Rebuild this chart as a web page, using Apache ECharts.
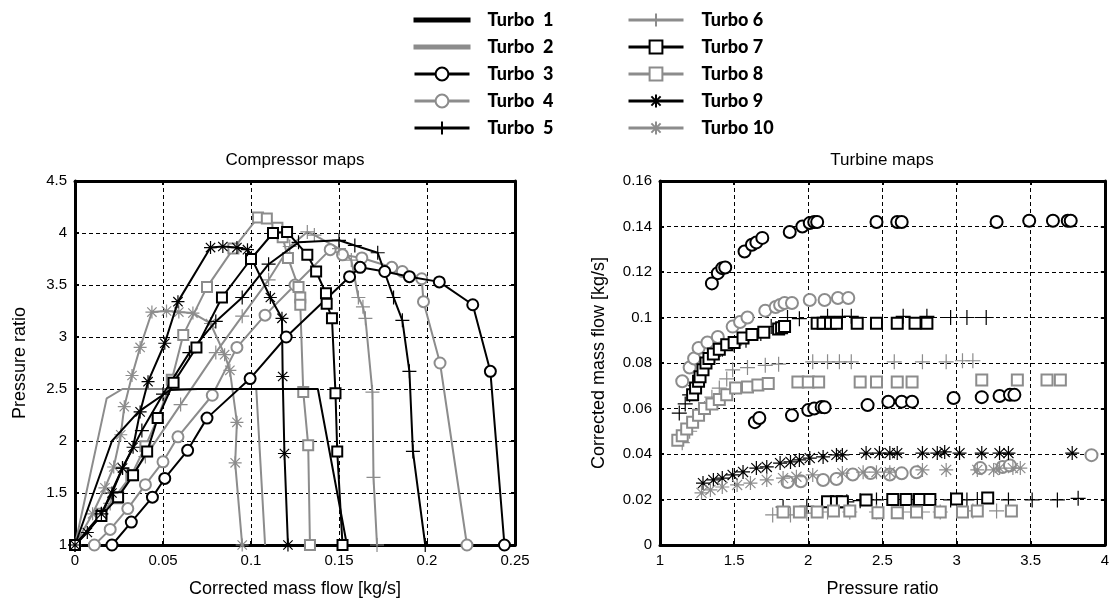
<!DOCTYPE html>
<html><head><meta charset="utf-8">
<script src="https://cdn.jsdelivr.net/npm/echarts@6/dist/echarts.min.js"></script>
<style>html,body{margin:0;padding:0;background:#fff}#c{width:1112px;height:604px}</style>
</head><body><div id="c"></div>
<script>
// ---------- names / styles ----------
const names = ['Turbo  1','Turbo  2','Turbo  3','Turbo  4','Turbo  5','Turbo 6','Turbo 7','Turbo 8','Turbo 9','Turbo 10'];
const xTicksLeft = [0, 0.05, 0.1, 0.15, 0.2, 0.25];
const yTicksLeft = [1, 1.5, 2, 2.5, 3, 3.5, 4, 4.5];
const xTicksRight = [1, 1.5, 2, 2.5, 3, 3.5, 4];
const yTicksRight = [0, 0.02, 0.04, 0.06, 0.08, 0.1, 0.12, 0.14, 0.16];

// ---------- compressor maps (mass flow, pressure ratio) ----------
const comp1 = [[0,1],[0.021,2.0],[0.036,2.28],[0.054,2.49],[0.07,2.5],[0.103,2.5],[0.138,2.5],[0.1545,1]];
const comp2 = [[0,1],[0.018,2.41],[0.027,2.5],[0.103,2.5],[0.108,1]];
const comp3 = [[0.021,1.0],[0.032,1.22],[0.044,1.46],[0.051,1.64],[0.064,1.91],[0.075,2.22],[0.0995,2.6],[0.12,3.0],[0.156,3.58],[0.162,3.67],[0.176,3.63],[0.19,3.58],[0.207,3.53],[0.226,3.31],[0.236,2.67],[0.244,1.0]];
const comp4 = [[0.011,1.0],[0.02,1.15],[0.03,1.35],[0.04,1.58],[0.05,1.8],[0.0585,2.04],[0.078,2.44],[0.092,2.9],[0.108,3.21],[0.125,3.5],[0.145,3.84],[0.152,3.79],[0.163,3.76],[0.18,3.67],[0.186,3.63],[0.197,3.56],[0.198,3.34],[0.2074,2.75],[0.2227,1.0]];
const comp5 = [[0,1],[0.015,1.3],[0.027,1.74],[0.038,2.1],[0.05,2.45],[0.065,2.85],[0.08,3.15],[0.095,3.38],[0.11,3.7],[0.127,3.91],[0.15,3.93],[0.159,3.88],[0.172,3.81],[0.181,3.38],[0.186,3.16],[0.19,2.67],[0.192,1.9],[0.199,1.0]];
const comp6 = [[0,1],[0.02,1.4],[0.04,1.85],[0.06,2.35],[0.08,2.85],[0.095,3.2],[0.11,3.55],[0.122,3.87],[0.132,4.01],[0.136,3.98],[0.15,3.85],[0.157,3.74],[0.161,3.38],[0.1636,3.29],[0.165,3.18],[0.169,2.47],[0.1696,1.65],[0.1716,1.0]];
const comp7 = [[0,1],[0.015,1.28],[0.0245,1.46],[0.033,1.67],[0.041,1.9],[0.047,2.22],[0.056,2.56],[0.069,2.9],[0.0835,3.38],[0.1,3.75],[0.1125,4.0],[0.1205,4.01],[0.132,3.79],[0.137,3.63],[0.1426,3.42],[0.143,3.32],[0.146,3.18],[0.148,2.46],[0.149,1.9],[0.152,1.0]];
const comp8 = [[0,1],[0.015,1.3],[0.024,1.45],[0.032,1.67],[0.04,1.95],[0.047,2.22],[0.055,2.59],[0.0615,3.02],[0.075,3.48],[0.09,3.85],[0.104,4.15],[0.109,4.14],[0.115,4.05],[0.118,3.96],[0.121,3.76],[0.127,3.48],[0.128,3.38],[0.128,3.31],[0.1297,2.47],[0.1325,1.96],[0.1335,1.0]];
const comp9 = [[0,1],[0.007,1.12],[0.015,1.3],[0.021,1.5],[0.027,1.74],[0.033,1.94],[0.037,2.28],[0.0415,2.57],[0.051,2.94],[0.0585,3.34],[0.077,3.86],[0.084,3.87],[0.092,3.86],[0.098,3.84],[0.111,3.38],[0.1176,3.18],[0.118,2.62],[0.119,1.88],[0.121,1.0]];
const comp10 = [[0,1],[0.01,1.3],[0.017,1.55],[0.022,1.75],[0.026,2.06],[0.028,2.33],[0.0324,2.63],[0.037,2.9],[0.0437,3.24],[0.052,3.25],[0.059,3.24],[0.067,3.23],[0.077,3.13],[0.085,2.83],[0.088,2.68],[0.092,2.18],[0.091,1.79],[0.095,1.0]];

// ---------- turbine maps (pressure ratio, mass flow) ----------
const turb3a = [[1.35,0.115],[1.39,0.1195],[1.42,0.1217],[1.44,0.122],[1.57,0.129],[1.62,0.132],[1.65,0.133],[1.69,0.135],[1.875,0.1376],[1.96,0.14],[2.01,0.1415],[2.04,0.142],[2.06,0.142],[2.46,0.142],[2.6,0.142],[2.63,0.142],[3.27,0.142],[3.49,0.1425],[3.65,0.1425],[3.75,0.1425],[3.77,0.1425]];
const turb3b = [[1.64,0.054],[1.67,0.0558],[1.89,0.057],[2.0,0.0593],[2.04,0.06],[2.09,0.0607],[2.11,0.0605],[2.4,0.0615],[2.54,0.063],[2.63,0.063],[2.7,0.063],[2.98,0.0646],[3.17,0.065],[3.29,0.0655],[3.36,0.066],[3.39,0.066]];
const turb4a = [[1.15,0.072],[1.2,0.078],[1.23,0.082],[1.26,0.0866],[1.32,0.089],[1.39,0.0914],[1.49,0.096],[1.54,0.098],[1.59,0.1],[1.71,0.103],[1.78,0.1046],[1.81,0.1055],[1.84,0.1064],[1.89,0.1064],[2.01,0.1077],[2.11,0.1077],[2.2,0.1086],[2.27,0.1086]];
const turb4b = [[1.86,0.0277],[1.95,0.028],[2.1,0.0286],[2.19,0.029],[2.3,0.031],[2.42,0.0316],[2.55,0.031],[2.63,0.0315],[2.73,0.032],[3.16,0.0338],[3.31,0.0343],[3.36,0.035],[3.91,0.0395]];
const turb5a = [[1.13,0.058],[1.17,0.062],[1.2,0.066],[1.24,0.07],[1.28,0.075],[1.32,0.08],[1.36,0.083],[1.42,0.086],[1.5,0.088],[1.58,0.09],[1.68,0.093],[1.75,0.096],[1.86,0.1],[1.94,0.0995],[2.13,0.1005],[2.23,0.1005],[2.29,0.1005],[2.64,0.1005],[2.8,0.1005],[2.96,0.1],[3.07,0.1],[3.2,0.1]];
const turb5b = [[1.83,0.0167],[1.99,0.017],[2.26,0.019],[2.35,0.0195],[2.46,0.0198],[2.96,0.0198],[3.07,0.0198],[3.14,0.02],[3.35,0.0198],[3.51,0.0198],[3.68,0.0198],[3.82,0.0205]];
const turb6a = [[1.15,0.045],[1.2,0.05],[1.25,0.055],[1.3,0.06],[1.35,0.065],[1.4,0.069],[1.45,0.073],[1.49,0.077],[1.59,0.078],[1.71,0.079],[1.8,0.0795],[2.03,0.0805],[2.13,0.0805],[2.21,0.0805],[2.29,0.0805],[2.58,0.0805],[2.77,0.0805],[2.93,0.0805],[3.04,0.081],[3.11,0.081]];
const turb6b = [[1.76,0.0132],[1.88,0.0132],[1.99,0.014],[2.13,0.0145],[2.28,0.0145],[2.46,0.0145],[2.64,0.0145],[2.77,0.0145],[2.89,0.0145],[3.11,0.015],[3.27,0.015]];
const turb7a = [[1.22,0.066],[1.24,0.069],[1.26,0.072],[1.27,0.074],[1.29,0.077],[1.31,0.08],[1.33,0.082],[1.36,0.084],[1.4,0.086],[1.45,0.088],[1.5,0.089],[1.56,0.091],[1.62,0.0925],[1.7,0.0935],[1.8,0.095],[1.82,0.0955],[1.84,0.096],[2.06,0.0975],[2.1,0.0975],[2.15,0.0975],[2.19,0.0975],[2.33,0.0975],[2.46,0.0975],[2.6,0.0975],[2.72,0.0975],[2.8,0.0975]];
const turb7b = [[2.13,0.019],[2.19,0.019],[2.23,0.019],[2.39,0.0198],[2.57,0.02],[2.66,0.02],[2.75,0.02],[2.82,0.02],[3.0,0.0202],[3.21,0.0207]];
const turb8a = [[1.12,0.046],[1.15,0.048],[1.18,0.051],[1.22,0.054],[1.26,0.057],[1.3,0.06],[1.35,0.062],[1.4,0.064],[1.45,0.066],[1.51,0.069],[1.59,0.0695],[1.66,0.0703],[1.73,0.071],[1.93,0.0716],[2.0,0.0716],[2.07,0.0716],[2.35,0.0716],[2.46,0.0716],[2.6,0.0716],[2.7,0.0716],[3.17,0.0725],[3.41,0.0725],[3.61,0.0725],[3.7,0.0725]];
const turb8b = [[1.83,0.0145],[1.94,0.0145],[2.06,0.0145],[2.17,0.015],[2.28,0.015],[2.47,0.0142],[2.6,0.0142],[2.73,0.0145],[2.89,0.0145],[3.04,0.0145],[3.14,0.015],[3.37,0.015]];
const turb9 = [[1.29,0.0272],[1.36,0.0286],[1.42,0.0294],[1.49,0.0308],[1.56,0.0321],[1.65,0.0338],[1.72,0.0343],[1.81,0.036],[1.88,0.0365],[1.94,0.0374],[2.01,0.0382],[2.1,0.0387],[2.19,0.0396],[2.23,0.0396],[2.39,0.0404],[2.48,0.0404],[2.55,0.0404],[2.6,0.0404],[2.77,0.0404],[2.87,0.0404],[2.92,0.0409],[3.02,0.0404],[3.17,0.0404],[3.29,0.0404],[3.35,0.0404],[3.78,0.0404]];
const turb10 = [[1.28,0.0229],[1.34,0.0242],[1.42,0.0255],[1.52,0.0264],[1.61,0.0272],[1.72,0.0286],[1.83,0.0294],[1.92,0.03],[2.03,0.0308],[2.23,0.0316],[2.37,0.032],[2.46,0.032],[2.55,0.032],[2.77,0.033],[2.93,0.033],[3.14,0.033],[3.25,0.033],[3.29,0.0338],[3.38,0.0338],[3.43,0.0338]];

// ---------- styling ----------
const BLACK = '#000', GRAY = '#8c8c8c';
const PLUS = 'path://M0,-1L0,1M-1,0L1,0';
const STAR = 'path://M0,-1L0,1M-1,0L1,0M-0.72,-0.72L0.72,0.72M-0.72,0.72L0.72,-0.72';
const BAR = 'path://M0,0L55,0L55,3L0,3Z';
const colors = [BLACK, GRAY, BLACK, GRAY, BLACK, GRAY, BLACK, GRAY, BLACK, GRAY];
const symbols = ['none','none','emptyCircle','emptyCircle',PLUS,PLUS,'emptyRect','emptyRect',STAR,STAR];
const symSizes = [0,0,11,11,14,14,10,10,13,13];
const compData = [comp1,comp2,comp3,comp4,comp5,comp6,comp7,comp8,comp9,comp10];
const turbData = [[],[],turb3a.concat(turb3b),turb4a.concat(turb4b),turb5a.concat(turb5b),turb6a.concat(turb6b),turb7a.concat(turb7b),turb8a.concat(turb8b),turb9,turb10];
const rSymSizes = [0,0,12,12,15,15,11,11,14,14];

const FONT = 'Liberation Sans';
const series = [];
names.forEach((n,i)=>{
  series.push({
    name:n, type:'line', xAxisIndex:0, yAxisIndex:0, data:compData[i],
    symbol:symbols[i], symbolSize:symSizes[i], showSymbol: symbols[i]!=='none',
    lineStyle:{color:colors[i], width:2},
    itemStyle:{color:colors[i], borderColor:colors[i], borderWidth:1.2},
    animation:false, z: (i%2===0)?3:2
  });
});
names.forEach((n,i)=>{
  if (!turbData[i].length) return;
  series.push({
    name:n, type:'scatter', xAxisIndex:1, yAxisIndex:1, data:turbData[i],
    symbol:symbols[i], symbolSize:rSymSizes[i],
    itemStyle:{color:colors[i], borderColor:colors[i], borderWidth:1.2, opacity:1},
    animation:false
  });
});

const axisLabel = {color:'#000', fontFamily:FONT, fontSize:15};
const splitLine = {show:true, lineStyle:{color:'#000', type:[4,3], width:1}};
const axisLine = {show:true, onZero:false, lineStyle:{color:'#000', width:3}};
const tickIn = {show:true, inside:true, length:4, lineStyle:{color:'#000', width:2}};
const nameStyle = {color:'#000', fontFamily:FONT, fontSize:18};

function frameX(g, min, max, interval){
  return {gridIndex:g, type:'value', position:'top', min, max, interval, axisLine, axisTick:tickIn, axisLabel:{show:false}, splitLine:{show:false}};
}
function frameY(g, min, max, interval){
  return {gridIndex:g, type:'value', position:'right', min, max, interval, axisLine, axisTick:tickIn, axisLabel:{show:false}, splitLine:{show:false}};
}

const legendCommon = {
  orient:'vertical', itemWidth:55, itemHeight:16, itemGap:9, symbolKeepAspect:true,
  textStyle:{fontFamily:'Lato', fontWeight:900, fontSize:18, color:'#000', padding:[0,0,0,13]},
  lineStyle:{width:3}
};
const legendItems = names.map((n,i)=> symbols[i]==='none' ? {name:n, icon:BAR, itemStyle:{color:colors[i]}} : {name:n});

const option = {
  backgroundColor:'#fff',
  animation:false,
  legend:[
    Object.assign({left:408, top:6, data:legendItems.slice(0,5)}, legendCommon),
    Object.assign({left:622, top:6, data:legendItems.slice(5)}, legendCommon)
  ],
  grid:[
    {left:75, top:181, width:440, height:364},
    {left:660, top:181, width:445, height:364}
  ],
  xAxis:[
    {gridIndex:0, type:'value', min:xTicksLeft[0], max:xTicksLeft[xTicksLeft.length-1], interval:0.05,
     axisLine, axisTick:tickIn, splitLine, axisLabel:Object.assign({margin:8}, axisLabel),
     name:'Corrected mass flow [kg/s]', nameLocation:'middle', nameGap:35, nameTextStyle:nameStyle},
    {gridIndex:1, type:'value', min:xTicksRight[0], max:xTicksRight[xTicksRight.length-1], interval:0.5,
     axisLine, axisTick:tickIn, splitLine, axisLabel:Object.assign({margin:8}, axisLabel),
     name:'Pressure ratio', nameLocation:'middle', nameGap:35, nameTextStyle:nameStyle},
    frameX(0, 0, 0.25, 0.05), frameX(1, 1, 4, 0.5)
  ],
  yAxis:[
    {gridIndex:0, type:'value', min:yTicksLeft[0], max:yTicksLeft[yTicksLeft.length-1], interval:0.5,
     axisLine, axisTick:tickIn, splitLine, axisLabel:Object.assign({margin:8}, axisLabel),
     name:'Pressure ratio', nameLocation:'middle', nameGap:46, nameRotate:90, nameTextStyle:nameStyle},
    {gridIndex:1, type:'value', min:yTicksRight[0], max:yTicksRight[yTicksRight.length-1], interval:0.02,
     axisLine, axisTick:tickIn, splitLine, axisLabel:Object.assign({margin:8}, axisLabel),
     name:'Corrected mass flow [kg/s]', nameLocation:'middle', nameGap:52, nameRotate:90, nameTextStyle:nameStyle},
    frameY(0, 1, 4.5, 0.5), frameY(1, 0, 0.16, 0.02)
  ],
  graphic:[
    {type:'text', x:295, y:160, style:{text:'Compressor maps', font:'17px "Liberation Sans"', fill:'#000', textAlign:'center', textVerticalAlign:'middle'}},
    {type:'text', x:882, y:160, style:{text:'Turbine maps', font:'17px "Liberation Sans"', fill:'#000', textAlign:'center', textVerticalAlign:'middle'}}
  ],
  series
};
const chart = echarts.init(document.getElementById('c'), null, {renderer:'canvas'});
chart.setOption(option);
</script></body></html>
